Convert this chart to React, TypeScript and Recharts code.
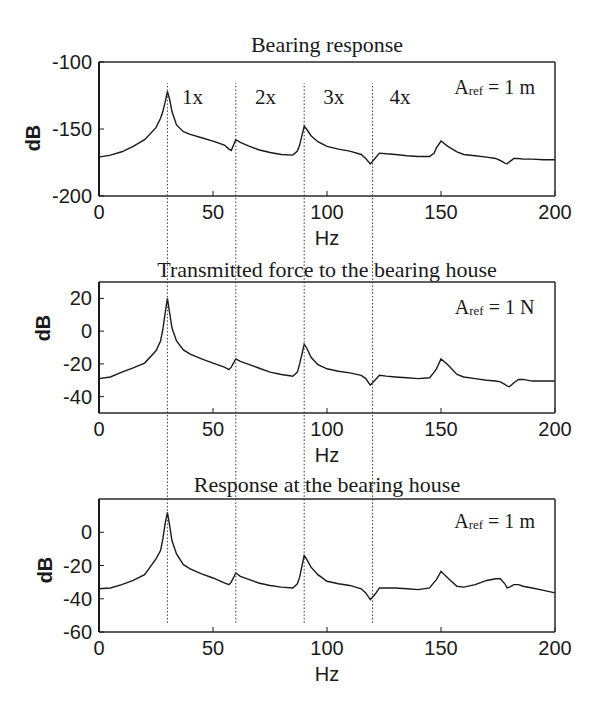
import React from "react";
import {
  ComposedChart,
  Line,
  XAxis,
  YAxis,
  ReferenceDot
} from "recharts";

// frequency grid (Hz) shared by the three spectra
const freq = [
  0, 5, 10, 15, 20, 25, 27, 28, 29, 30, 31, 32, 34, 37, 40, 45, 50, 55, 57, 58,
  60, 62, 66, 70, 75, 80, 85, 87, 88, 90, 91, 93, 96, 100, 105, 110, 115, 117,
  119, 121, 123, 126, 130, 135, 140, 145, 147, 148, 150, 153, 157, 160, 165,
  170, 174, 176, 178, 179, 180, 182, 184, 186, 190, 195, 200
];

const bearingDb = [
  -171, -169.5, -167, -163, -158, -149, -142, -137, -130, -122, -128, -137,
  -147, -152, -154, -156.5, -159, -162, -165, -166, -158, -160, -163, -165.5,
  -167.5, -169, -169.5, -166.5, -162, -148, -150, -155, -159.5, -163, -165,
  -166.5, -169, -172, -176, -172, -168, -168.5, -169, -170, -170.5, -170.5,
  -168, -164, -159, -163, -167, -169, -170, -171, -172, -173.5, -175.5, -176,
  -174.5, -172, -172, -172.5, -172.5, -173, -173
];

const forceDb = [
  -29, -28, -25, -22.5, -19.5, -12, -6, 1, 11, 20, 11, 2, -6, -11.5, -14, -17,
  -19.5, -22, -23.5, -22, -17, -18.5, -20.5, -22.5, -25, -26.5, -27.5, -25,
  -20, -8, -10, -16, -20.5, -23, -24.5, -25.5, -27, -29, -33, -30, -27, -27.5,
  -28, -28.5, -29, -28.5, -25, -23, -17, -20.5, -26.5, -28, -29, -30, -30.5,
  -31, -32.5, -33.5, -34, -31.5, -29.5, -29.5, -30.5, -30.5, -30.5
];

const houseDb = [
  -34, -33.5, -31.5, -29, -25.5, -16, -11, -4, 5, 12, 4, -5, -13, -19.5, -22,
  -25, -27.5, -30.5, -31.5, -30, -24.5, -26.5, -28.5, -30.5, -32, -33, -33.5,
  -31, -27, -14, -16, -21, -25.5, -29.5, -31, -32, -34, -36.5, -40.5, -37.5,
  -33.5, -33.5, -33.5, -34, -34.5, -33.5, -30, -28.5, -23.5, -27.5, -32.5, -33,
  -31.5, -29, -28, -28, -31, -33.5, -33, -31.5, -31.5, -32.5, -33.5, -35, -36.5
];

const xTicks = [0, 50, 100, 150, 200];
const harmonics = [30, 60, 90, 120];
const harmonicNames = ["1x", "2x", "3x", "4x"];
const harmonicTextAt = [41, 73, 103, 132];
// dotted harmonic lines run from the bottom panel up into the top one (0..1 of the stack)
const harmonicSpan = [0.016, 0.963];

const SANS = "Liberation Sans, Arial, sans-serif";
const SERIF = "Liberation Serif, Times New Roman, serif";
const INK = "#1a1a1a";

const PLOT_L = 99;
const PLOT_W = 456;

const ARef = (unit: string) => (props: any) => {
  const { x, y } = props.viewBox;
  return (
    <text
      x={x}
      y={y}
      textAnchor="middle"
      dominantBaseline="central"
      fontFamily={SERIF}
      fontSize={20}
      fill={INK}
    >
      A
      <tspan fontSize={13} dy={3}>ref</tspan>
      <tspan dy={-3}> = 1 {unit}</tspan>
    </text>
  );
};

function Panel({
  values,
  domain,
  ticks,
  title,
  titleY,
  unit,
  arefY,
  plotTop,
  plotH,
  dbX,
  dbY,
  showHarmonics
}: any) {
  const data = freq.map((f, i) => ({ f, v: values[i] }));
  const tickFont = { fontFamily: SANS, fontSize: 20, fill: INK };
  const frame = { stroke: "#2a2a2a", strokeWidth: 1.5 };
  return (
    <>
      <div
        style={{
          position: "absolute",
          left: PLOT_L - 60,
          width: PLOT_W + 120,
          top: titleY - 13,
          lineHeight: "26px",
          textAlign: "center",
          fontFamily: SERIF,
          fontSize: 22,
          color: INK,
          whiteSpace: "nowrap"
        }}
      >
        {title}
      </div>
      <div style={{ position: "absolute", left: 0, top: plotTop - 20 }}>
        <ComposedChart
          width={609}
          height={plotH + 75}
          data={data}
          margin={{ top: 0, right: 0, bottom: 0, left: PLOT_L - 60 }}
        >
          <XAxis
            dataKey="f"
            type="number"
            domain={[0, 200]}
            ticks={xTicks}
            height={55}
            axisLine={frame}
            tickSize={-5}
            tickMargin={14}
            tickLine={{ stroke: INK }}
            tick={tickFont}
            label={{
              value: "Hz",
              position: "insideBottom",
              offset: 6,
              ...tickFont
            }}
          />
          <XAxis
            xAxisId="top"
            orientation="top"
            dataKey="f"
            type="number"
            domain={[0, 200]}
            ticks={xTicks}
            height={20}
            axisLine={frame}
            tickSize={-5}
            tickLine={{ stroke: INK }}
            tick={false}
          />
          <YAxis
            type="number"
            domain={domain}
            ticks={ticks}
            width={60}
            axisLine={{ stroke: INK, strokeWidth: 2 }}
            tickSize={-5}
            tickMargin={12}
            tickLine={{ stroke: INK }}
            tick={tickFont}
            label={{
              content: () => (
                <text
                  x={dbX}
                  y={dbY}
                  transform={`rotate(-90 ${dbX} ${dbY})`}
                  textAnchor="middle"
                  dominantBaseline="central"
                  fontFamily={SANS}
                  fontWeight="bold"
                  fontSize={20}
                  fill={INK}
                >
                  dB
                </text>
              )
            }}
          />
          <YAxis
            yAxisId="right"
            orientation="right"
            type="number"
            domain={domain}
            ticks={ticks}
            width={609 - PLOT_L - PLOT_W}
            axisLine={frame}
            tickSize={-5}
            tickLine={{ stroke: INK }}
            tick={false}
          />
          <Line
            dataKey="v"
            type="linear"
            stroke={INK}
            strokeWidth={1.4}
            dot={false}
            isAnimationActive={false}
          />
          {showHarmonics &&
            harmonicNames.map((n, i) => (
              <ReferenceDot
                key={n}
                x={harmonicTextAt[i]}
                y={-126}
                r={0}
                fill="none"
                stroke="none"
                label={{
                  value: n,
                  position: "center",
                  fontFamily: SERIF,
                  fontSize: 21,
                  fill: INK
                }}
              />
            ))}
          <ReferenceDot
            x={173.5}
            y={arefY}
            r={0}
            fill="none"
            stroke="none"
            label={{ content: ARef(unit) }}
          />
        </ComposedChart>
      </div>
    </>
  );
}

export default function App() {
  return (
    <div
      style={{
        position: "absolute",
        left: 0,
        top: 0,
        width: 609,
        height: 713,
        background: "#fff"
      }}
    >
      <Panel
        values={bearingDb}
        domain={[-200, -100]}
        ticks={[-200, -150, -100]}
        title="Bearing response"
        titleY={45}
        unit="m"
        arefY={-118.5}
        plotTop={62}
        plotH={134}
        dbX={33}
        dbY={138 - 42}
        showHarmonics
      />
      <Panel
        values={forceDb}
        domain={[-50, 30]}
        ticks={[-40, -20, 0, 20]}
        title="Transmitted force to the bearing house"
        titleY={270}
        unit="N"
        arefY={14.5}
        plotTop={282}
        plotH={131}
        dbX={43}
        dbY={328 - 262}
      />
      <Panel
        values={houseDb}
        domain={[-60, 20]}
        ticks={[-60, -40, -20, 0]}
        title="Response at the bearing house"
        titleY={485}
        unit="m"
        arefY={6.7}
        plotTop={499}
        plotH={133}
        dbX={45}
        dbY={570 - 479}
      />
      <div style={{ position: "absolute", left: PLOT_L, top: 62, pointerEvents: "none" }}>
        <ComposedChart
          width={PLOT_W}
          height={570}
          margin={{ top: 0, right: 0, bottom: 0, left: 0 }}
        >
          <XAxis dataKey="f" type="number" domain={[0, 200]} hide />
          <YAxis type="number" domain={[0, 1]} hide />
          {harmonics.map((h) => (
            <Line
              key={h}
              data={harmonicSpan.map((y) => ({ f: h, y }))}
              dataKey="y"
              type="linear"
              stroke="#333"
              strokeWidth={1}
              strokeDasharray="1.5 2"
              dot={false}
              isAnimationActive={false}
            />
          ))}
        </ComposedChart>
      </div>
    </div>
  );
}
